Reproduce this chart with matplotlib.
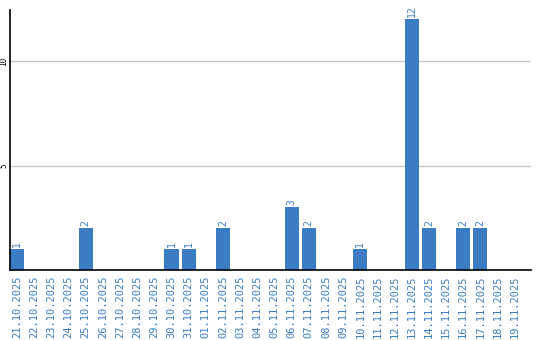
import matplotlib.pyplot as plt
import pandas as pd

dates = [d.strftime('%d.%m.%Y') for d in pd.date_range('2025-10-21', '2025-11-19')]
counts = [1, 0, 0, 0, 2, 0, 0, 0, 0, 1, 1, 0, 2, 0, 0, 0, 3, 2, 0, 0,
          1, 0, 0, 12, 2, 0, 2, 2, 0, 0]

blue = '#3a7dc4'
fig = plt.figure(figsize=(5.4, 3.4), dpi=100)
ax = fig.add_axes([10 / 540, 70 / 340, 521 / 540, 260 / 340])

x = list(range(len(dates)))
bars = ax.bar(x, counts, width=0.82, color=blue, zorder=2)
for xi, v in zip(x, counts):
    if v > 0:
        ax.text(xi, v + 0.12, str(v), rotation=90, ha='center', va='bottom',
                color=blue, fontsize=7, family='DejaVu Sans Mono')

ax.set_xlim(-0.41, 29.95)
ax.set_ylim(0, 12.45)
ax.set_yticks([5, 10])
ax.set_yticklabels(['5', '10'], rotation=90, va='center', fontsize=5.5,
                   family='DejaVu Sans Mono')
ax.yaxis.grid(True, color='#c8c8c8', linewidth=1, zorder=0)
ax.tick_params(axis='y', length=0, pad=1)
ax.set_xticks(x)
ax.set_xticklabels(dates, rotation=90, color=blue, fontsize=7.5,
                   family='DejaVu Sans Mono')
ax.tick_params(axis='x', length=0, pad=4)
for s in ['top', 'right']:
    ax.spines[s].set_visible(False)
ax.spines['left'].set_linewidth(1.2)
ax.spines['bottom'].set_linewidth(1.2)

plt.savefig('out.png')
